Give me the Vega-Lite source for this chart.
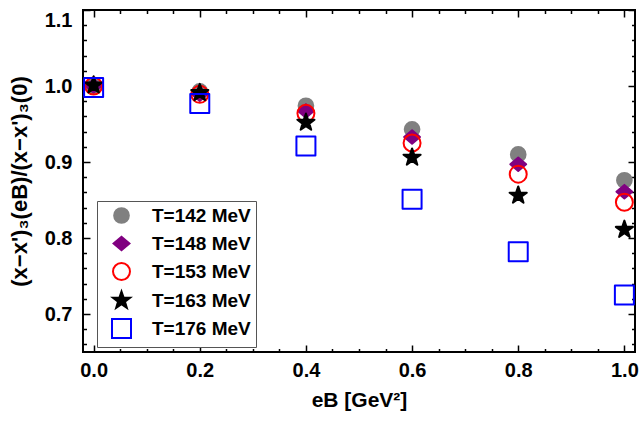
{
  "$schema": "https://vega.github.io/schema/vega-lite/v6.json",
  "width": 552,
  "height": 342,
  "autosize": {"type": "none"},
  "padding": {"left": 83, "top": 10, "right": 4, "bottom": 70},
  "background": "white",
  "config": {
    "view": {"stroke": "black", "strokeWidth": 2},
    "font": "Liberation Sans",
    "axis": {
      "domain": false, "grid": false,
      "tickColor": "black", "tickWidth": 1.5, "tickSize": -7,
      "labelFont": "Liberation Sans", "labelFontWeight": "bold", "labelFontSize": 20, "labelColor": "black",
      "titleFont": "Liberation Sans", "titleFontWeight": "bold", "titleFontSize": 21, "titleColor": "black"
    },
    "legend": {
      "orient": "none", "legendX": 14, "legendY": 191,
      "strokeColor": "#555555", "fillColor": "white", "padding": 5,
      "symbolOffset": 9, "labelOffset": 20, "rowPadding": 1, "gridAlign": "all",
      "labelFont": "Liberation Sans", "labelFontSize": 19, "labelFontWeight": "bold", "labelColor": "black",
      "symbolStrokeWidth": 2
    }
  },
  "data": {"values": [
    {"T": "T=142 MeV", "eB": 0.0, "ratio": 1.0},
    {"T": "T=142 MeV", "eB": 0.2, "ratio": 0.993},
    {"T": "T=142 MeV", "eB": 0.4, "ratio": 0.974},
    {"T": "T=142 MeV", "eB": 0.6, "ratio": 0.943},
    {"T": "T=142 MeV", "eB": 0.8, "ratio": 0.910},
    {"T": "T=142 MeV", "eB": 1.0, "ratio": 0.876},
    {"T": "T=148 MeV", "eB": 0.0, "ratio": 1.0},
    {"T": "T=148 MeV", "eB": 0.2, "ratio": 0.989},
    {"T": "T=148 MeV", "eB": 0.4, "ratio": 0.967},
    {"T": "T=148 MeV", "eB": 0.6, "ratio": 0.933},
    {"T": "T=148 MeV", "eB": 0.8, "ratio": 0.897},
    {"T": "T=148 MeV", "eB": 1.0, "ratio": 0.861},
    {"T": "T=153 MeV", "eB": 0.0, "ratio": 1.0},
    {"T": "T=153 MeV", "eB": 0.2, "ratio": 0.989},
    {"T": "T=153 MeV", "eB": 0.4, "ratio": 0.964},
    {"T": "T=153 MeV", "eB": 0.6, "ratio": 0.925},
    {"T": "T=153 MeV", "eB": 0.8, "ratio": 0.884},
    {"T": "T=153 MeV", "eB": 1.0, "ratio": 0.847},
    {"T": "T=163 MeV", "eB": 0.0, "ratio": 1.001},
    {"T": "T=163 MeV", "eB": 0.2, "ratio": 0.991},
    {"T": "T=163 MeV", "eB": 0.4, "ratio": 0.952},
    {"T": "T=163 MeV", "eB": 0.6, "ratio": 0.906},
    {"T": "T=163 MeV", "eB": 0.8, "ratio": 0.856},
    {"T": "T=163 MeV", "eB": 1.0, "ratio": 0.811},
    {"T": "T=176 MeV", "eB": 0.0, "ratio": 0.998},
    {"T": "T=176 MeV", "eB": 0.2, "ratio": 0.977},
    {"T": "T=176 MeV", "eB": 0.4, "ratio": 0.921},
    {"T": "T=176 MeV", "eB": 0.6, "ratio": 0.851},
    {"T": "T=176 MeV", "eB": 0.8, "ratio": 0.782},
    {"T": "T=176 MeV", "eB": 1.0, "ratio": 0.725}
  ]},
  "layer": [
    {
      "mark": {"type": "point", "filled": true, "opacity": 1, "strokeWidth": 2, "strokeJoin": "round"},
      "encoding": {
        "x": {
          "field": "eB", "type": "quantitative",
          "scale": {"domain": [-0.02, 1.02], "nice": false, "zero": false},
          "axis": {
            "orient": "bottom", "title": "eB [GeV²]",
            "values": [0, 0.05, 0.1, 0.15, 0.2, 0.25, 0.3, 0.35, 0.4, 0.45, 0.5, 0.55, 0.6, 0.65, 0.7, 0.75, 0.8, 0.85, 0.9, 0.95, 1.0],
            "labelExpr": "abs(datum.value*5 - round(datum.value*5)) < 0.001 ? format(datum.value, '.1f') : ''",
            "tickDash": {"condition": {"test": "abs(datum.value*5 - round(datum.value*5)) > 0.001", "value": [3.5, 40]}, "value": []},
            "labelPadding": 15, "titlePadding": 9
          }
        },
        "y": {
          "field": "ratio", "type": "quantitative",
          "scale": {"domain": [0.65, 1.1], "nice": false, "zero": false},
          "axis": {
            "orient": "left", "title": "(x−x')₃(eB)/(x−x')₃(0)",
            "values": [0.66, 0.68, 0.7, 0.72, 0.74, 0.76, 0.78, 0.8, 0.82, 0.84, 0.86, 0.88, 0.9, 0.92, 0.94, 0.96, 0.98, 1.0, 1.02, 1.04, 1.06, 1.08, 1.1],
            "labelExpr": "abs(datum.value*10 - round(datum.value*10)) < 0.001 ? format(datum.value, '.1f') : ''",
            "tickDash": {"condition": {"test": "abs(datum.value*10 - round(datum.value*10)) > 0.001", "value": [3.5, 40]}, "value": []},
            "labelPadding": 18, "titlePadding": 13, "titleFontSize": 22, "labelFlush": true
          }
        },
        "fill": {
          "field": "T", "type": "nominal",
          "scale": {"domain": ["T=142 MeV", "T=148 MeV", "T=153 MeV", "T=163 MeV", "T=176 MeV"],
                    "range": ["#808080", "#800080", "rgba(255,255,255,0)", "#000000", "rgba(255,255,255,0)"]},
          "legend": {"title": null}
        },
        "stroke": {
          "field": "T", "type": "nominal",
          "scale": {"domain": ["T=142 MeV", "T=148 MeV", "T=153 MeV", "T=163 MeV", "T=176 MeV"],
                    "range": ["#808080", "#800080", "#ff0000", "#000000", "#0000ff"]},
          "legend": {"title": null}
        },
        "shape": {
          "field": "T", "type": "nominal",
          "scale": {"domain": ["T=142 MeV", "T=148 MeV", "T=153 MeV", "T=163 MeV", "T=176 MeV"],
                    "range": ["circle", "M-1,0L0,-0.85L1,0L0,0.85Z", "circle", "M0,-1L0.235,-0.324L0.951,-0.309L0.38,0.124L0.588,0.809L0,0.4L-0.588,0.809L-0.38,0.124L-0.951,-0.309L-0.235,-0.324Z", "square"]},
          "legend": {"title": null}
        },
        "size": {
          "field": "T", "type": "nominal",
          "scale": {"domain": ["T=142 MeV", "T=148 MeV", "T=153 MeV", "T=163 MeV", "T=176 MeV"],
                    "range": [216, 361, 200, 430, 190]},
          "legend": {"title": null}
        }
      }
    },
    {
      "mark": {"type": "point", "opacity": 0},
      "encoding": {
        "x": {
          "field": "eB", "type": "quantitative",
          "scale": {"domain": [-0.02, 1.02], "nice": false, "zero": false},
          "axis": {
            "orient": "top", "title": null, "labels": false,
            "values": [0, 0.05, 0.1, 0.15, 0.2, 0.25, 0.3, 0.35, 0.4, 0.45, 0.5, 0.55, 0.6, 0.65, 0.7, 0.75, 0.8, 0.85, 0.9, 0.95, 1.0],
            "tickDash": {"condition": {"test": "abs(datum.value*5 - round(datum.value*5)) > 0.001", "value": [3.5, 40]}, "value": []}
          }
        },
        "y": {
          "field": "ratio", "type": "quantitative",
          "scale": {"domain": [0.65, 1.1], "nice": false, "zero": false},
          "axis": {
            "orient": "right", "title": null, "labels": false,
            "values": [0.66, 0.68, 0.7, 0.72, 0.74, 0.76, 0.78, 0.8, 0.82, 0.84, 0.86, 0.88, 0.9, 0.92, 0.94, 0.96, 0.98, 1.0, 1.02, 1.04, 1.06, 1.08, 1.1],
            "tickDash": {"condition": {"test": "abs(datum.value*10 - round(datum.value*10)) > 0.001", "value": [3.5, 40]}, "value": []}
          }
        }
      }
    }
  ],
  "resolve": {"axis": {"x": "independent", "y": "independent"}}
}
